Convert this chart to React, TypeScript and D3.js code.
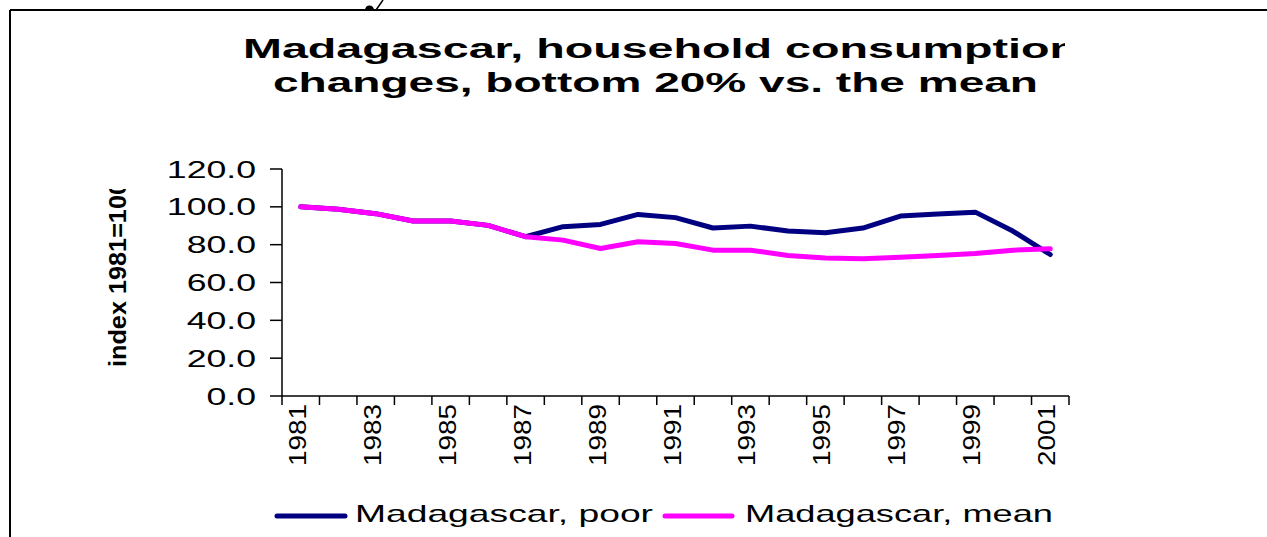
import React from "react";
import * as d3 from "d3";

const years = d3.range(1981, 2002).map(String);
const poorValues = [100, 98.7, 96.4, 92.5, 92.5, 90.2, 84.2, 89.5, 90.7, 96, 94.3, 88.8, 89.8, 87.2, 86.3, 88.8, 95.1, 96.2, 97.2, 87.2, 74.8];
const meanValues = [100, 98.7, 96.4, 92.5, 92.5, 90.2, 84.2, 82.4, 78, 81.5, 80.6, 77.1, 77.1, 74.3, 73, 72.5, 73.4, 74.3, 75.3, 77.1, 77.8];
const yTicks = [0, 20, 40, 60, 80, 100, 120];
const xLabelYears = ["1981", "1983", "1985", "1987", "1989", "1991", "1993", "1995", "1997", "1999", "2001"];
const titleLines = ["Madagascar, household consumption", "changes, bottom 20% vs. the mean"];
const seriesNames = ["Madagascar, poor", "Madagascar, mean"];
const seriesColors = ["#000080", "#FF00FF"];

const FONT = "'Liberation Sans', Arial, sans-serif";

export default function App() {
  const W = 1267, H = 537;
  const x = d3.scaleBand<string>().domain(years).range([282, 1069]).padding(0);
  const y = d3.scaleLinear().domain([0, 120]).range([396, 169]);
  const cx = (yr: string) => (x(yr) as number) + x.bandwidth() / 2;
  const line = d3.line<number>().x((_, i) => cx(years[i])).y((d) => y(d));

  const boundaries = years.map((yr) => x(yr) as number).concat([1069]);

  return (
    <svg width={W} height={H} style={{ position: "absolute", left: 0, top: 0, background: "#fff" }}>
      <defs>
        <clipPath id="titleClip"><rect x={0} y={0} width={1065} height={H} /></clipPath>
        <clipPath id="ylabClip"><rect x={0} y={189} width={200} height={H} /></clipPath>
      </defs>
      <rect x={0} y={0} width={W} height={H} fill="#fff" />
      {/* frame */}
      <line x1={10} y1={10} x2={W} y2={10} stroke="#000" strokeWidth={2} />
      <line x1={10} y1={10} x2={10} y2={H} stroke="#000" strokeWidth={2} />
      {/* small artifact at top */}
      <path d="M365,10 A4.5,4.5 0 0 1 374,10 Z" fill="#000" />
      <line x1={376} y1={10} x2={383} y2={0} stroke="#000" strokeWidth={1.5} />

      {/* title */}
      <g clipPath="url(#titleClip)" fontFamily={FONT} fontWeight="bold" fontSize={28} fill="#000">
        <text x={243} y={58} textLength={835} lengthAdjust="spacingAndGlyphs">{titleLines[0]}</text>
        <text x={273} y={92} textLength={765} lengthAdjust="spacingAndGlyphs">{titleLines[1]}</text>
      </g>

      {/* y axis label */}
      <g clipPath="url(#ylabClip)">
        <text transform="translate(126,367) rotate(-90)" fontFamily={FONT} fontWeight="bold" fontSize={23}
          textLength={186} lengthAdjust="spacingAndGlyphs">index 1981=100</text>
      </g>

      {/* y axis */}
      <line x1={282} y1={y(120)} x2={282} y2={396} stroke="#000" strokeWidth={1.5} />
      {yTicks.map((t) => (
        <g key={t}>
          <line x1={270} x2={282} y1={y(t)} y2={y(t)} stroke="#000" strokeWidth={1.5} />
          <text transform={`translate(256,${y(t) + 8.5}) scale(1.55,1)`} textAnchor="end"
            fontFamily={FONT} fontSize={23} fill="#000">{t.toFixed(1)}</text>
        </g>
      ))}

      {/* x axis */}
      <line x1={282} y1={396} x2={1069} y2={396} stroke="#000" strokeWidth={1.5} />
      {boundaries.map((bx, i) => (
        <line key={i} x1={bx} x2={bx} y1={396} y2={405} stroke="#000" strokeWidth={1.5} />
      ))}
      {xLabelYears.map((yr) => (
        <text key={yr} transform={`translate(${cx(yr) + 5},404) rotate(-90)`} textAnchor="end"
          fontFamily={FONT} fontSize={23} fill="#000" textLength={62} lengthAdjust="spacingAndGlyphs">{yr}</text>
      ))}

      {/* series */}
      <path d={line(poorValues) || ""} fill="none" stroke={seriesColors[0]} strokeWidth={5} strokeLinejoin="round" strokeLinecap="round" />
      <path d={line(meanValues) || ""} fill="none" stroke={seriesColors[1]} strokeWidth={5} strokeLinejoin="round" strokeLinecap="round" />

      {/* legend */}
      <line x1={277} x2={345} y1={516} y2={516} stroke={seriesColors[0]} strokeWidth={5} strokeLinecap="round" />
      <text x={355} y={522} fontFamily={FONT} fontSize={24} fill="#000" textLength={298} lengthAdjust="spacingAndGlyphs">{seriesNames[0]}</text>
      <line x1={665} x2={732} y1={516} y2={516} stroke={seriesColors[1]} strokeWidth={5} strokeLinecap="round" />
      <text x={745} y={522} fontFamily={FONT} fontSize={24} fill="#000" textLength={308} lengthAdjust="spacingAndGlyphs">{seriesNames[1]}</text>
    </svg>
  );
}
